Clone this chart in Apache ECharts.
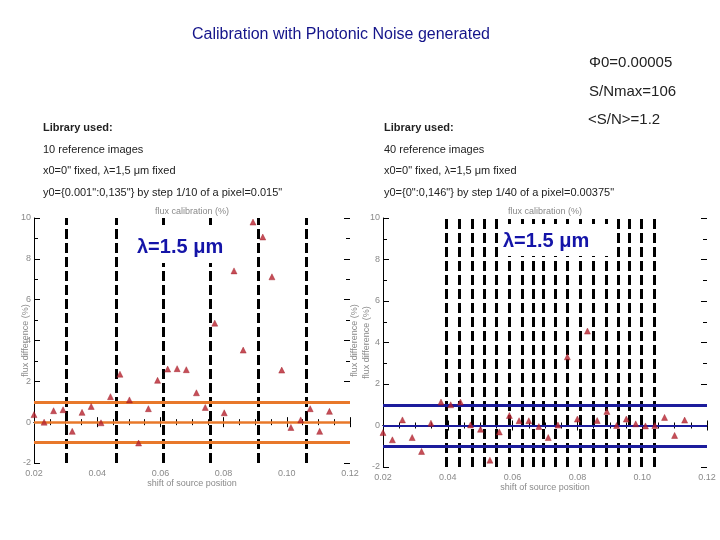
<!DOCTYPE html>
<html>
<head>
<meta charset="utf-8">
<script src="https://cdn.jsdelivr.net/npm/echarts@6/dist/echarts.min.js"></script>
<style>
  html, body { margin: 0; background: #fff; }
  #chart { width: 720px; height: 540px; }
</style>
</head>
<body>
<div id="chart"></div>
<script>
// measured flux difference (%) vs shift of source position, 10-image library
const leftPoints = [
  [0.0200, 0.37], [0.0232, 0.00], [0.0262, 0.56], [0.0292, 0.61], [0.0321, -0.45],
  [0.0352, 0.48], [0.0381, 0.77], [0.0412, -0.03], [0.0442, 1.25], [0.0472, 2.35],
  [0.0502, 1.09], [0.0531, -1.02], [0.0562, 0.66], [0.0591, 2.05], [0.0623, 2.60],
  [0.0653, 2.62], [0.0682, 2.57], [0.0714, 1.44], [0.0742, 0.72], [0.0772, 4.85],
  [0.0802, 0.46], [0.0833, 7.41], [0.0862, 3.53], [0.0893, 9.80], [0.0924, 9.07],
  [0.0953, 7.12], [0.0984, 2.55], [0.1013, -0.26], [0.1044, 0.11], [0.1074, 0.66],
  [0.1104, -0.45], [0.1135, 0.53]
];
// same, 40-image library
const rightPoints = [
  [0.0200, -0.34], [0.0229, -0.69], [0.0260, 0.27], [0.0290, -0.58], [0.0319, -1.25],
  [0.0348, 0.11], [0.0379, 1.13], [0.0409, 1.00], [0.0439, 1.13], [0.0470, 0.03],
  [0.0501, -0.18], [0.0530, -1.67], [0.0559, -0.31], [0.0590, 0.48], [0.0620, 0.23],
  [0.0650, 0.23], [0.0681, -0.05], [0.0710, -0.58], [0.0740, 0.02], [0.0769, 3.31],
  [0.0800, 0.31], [0.0831, 4.55], [0.0861, 0.24], [0.0891, 0.68], [0.0921, 0.00],
  [0.0951, 0.31], [0.0980, 0.08], [0.1010, -0.02], [0.1039, 0.00], [0.1069, 0.39],
  [0.1100, -0.48], [0.1131, 0.26]
];
// reference image positions (dashed lines)
const leftRefs = [0.0303, 0.0459, 0.0609, 0.0759, 0.0910, 0.1060];
const rightRefs = [0.0394, 0.0435, 0.0474, 0.0511, 0.0551, 0.0590, 0.0629, 0.0663, 0.0694,
  0.0731, 0.0768, 0.0808, 0.0848, 0.0889, 0.0926, 0.0960, 0.0997, 0.1037];
// tolerance band (%)
const bandLevels = [1, 0, -1];

const xTicks = { min: 0.02, max: 0.12, interval: 0.02 };
const yTicks = { min: -2, max: 10, interval: 2 };

const chart = echarts.init(document.getElementById('chart'));

const tickColor = '#000';
const faint = '#8a8a8a';

function xAxes(grid) {
  const base = {
    gridIndex: grid, type: 'value', ...xTicks,
    nameMoveOverlap: false,
    axisLine: { lineStyle: { color: tickColor, width: 1 } },
    axisTick: { inside: true, length: 5, lineStyle: { color: tickColor } },
    minorTick: { show: true, splitNumber: 4, length: 3, lineStyle: { color: tickColor } },
    splitLine: { show: false }
  };
  return [
    { ...base, position: 'bottom',
      name: 'shift of source position', nameLocation: 'middle', nameGap: 16,
      nameTextStyle: { color: faint, fontSize: 9 },
      axisLabel: { color: faint, fontSize: 9, margin: 6, formatter: v => v.toFixed(2) } },
    { ...base, position: 'top',
      name: 'flux calibration (%)', nameLocation: 'middle', nameGap: 2,
      nameTextStyle: { color: faint, fontSize: 9 },
      axisLabel: { show: false } }
  ];
}

function yAxes(grid) {
  const base = {
    gridIndex: grid, type: 'value', ...yTicks,
    nameMoveOverlap: false,
    axisLine: { lineStyle: { color: tickColor, width: 1 } },
    axisTick: { inside: true, length: 6, lineStyle: { color: tickColor } },
    minorTick: { show: true, splitNumber: 2, length: 4, lineStyle: { color: tickColor } },
    splitLine: { show: false }
  };
  return [
    { ...base, position: 'left',
      name: 'flux difference (%)', nameLocation: 'middle', nameGap: grid === 0 ? 4 : 12,
      nameTextStyle: { color: faint, fontSize: 9 },
      axisLabel: { color: faint, fontSize: 9, margin: 3 } },
    { ...base, position: 'right',
      name: grid === 0 ? 'flux difference (%)' : '', nameLocation: 'middle', nameGap: 0,
      nameRotate: 90,
      nameTextStyle: { color: faint, fontSize: 9 },
      axisLine: { show: false },
      axisLabel: { show: false } }
  ];
}

function panelSeries(idx, points, refs, bandColor, bandWidths) {
  return [
    {
      type: 'scatter', xAxisIndex: idx * 2, yAxisIndex: idx * 2,
      data: points, symbol: 'triangle', symbolSize: 6,
      itemStyle: { color: '#b8222e', borderColor: '#9a1620', borderWidth: 0.5 },
      z: 5,
      markLine: {
        silent: true, symbol: 'none', precision: 6, label: { show: false },
        lineStyle: { color: '#000', width: 3, type: [10, 4] },
        data: refs.map(v => ({ xAxis: v }))
      }
    },
    {
      type: 'line', xAxisIndex: idx * 2, yAxisIndex: idx * 2,
      data: [], z: 3,
      markLine: {
        silent: true, symbol: 'none', precision: 6, label: { show: false },
        data: bandLevels.map((v, i) => ({ yAxis: v, lineStyle: { color: bandColor, width: bandWidths[i], type: 'solid' } }))
      }
    }
  ];
}

const headerText = (x, y, text, style) => ({
  type: 'text', left: x, top: y,
  style: { text, fill: '#222', font: '15px Arial, "Liberation Sans", sans-serif', ...style }
});

const option = {
  backgroundColor: '#fff',
  animation: false,
  grid: [
    { left: 34, right: 370, top: 218, bottom: 77 },
    { left: 383, right: 13, top: 218, bottom: 73 }
  ],
  xAxis: [...xAxes(0), ...xAxes(1)],
  yAxis: [...yAxes(0), ...yAxes(1)],
  series: [
    ...panelSeries(0, leftPoints, leftRefs, '#e8782a', [3, 2.5, 3]),
    ...panelSeries(1, rightPoints, rightRefs, '#1c1c9c', [3, 2, 3])
  ],
  graphic: [
    headerText(192, 27, 'Calibration with Photonic Noise generated', { fill: '#14148a', font: '16px Arial, "Liberation Sans", sans-serif' }),
    headerText(589, 55, 'Φ0=0.00005'),
    headerText(589, 84, 'S/Nmax=106'),
    headerText(588, 112, '<S/N>=1.2'),
    headerText(43, 122, 'Library used:', { font: 'bold 11px Arial, "Liberation Sans", sans-serif' }),
    headerText(43, 144, '10 reference images', { font: '11px Arial, "Liberation Sans", sans-serif' }),
    headerText(43, 165, 'x0=0" fixed, λ=1,5 μm fixed', { font: '11px Arial, "Liberation Sans", sans-serif' }),
    headerText(43, 187, 'y0={0.001":0,135"} by step 1/10 of a pixel=0.015"', { font: '11px Arial, "Liberation Sans", sans-serif' }),
    headerText(384, 122, 'Library used:', { font: 'bold 11px Arial, "Liberation Sans", sans-serif' }),
    headerText(384, 144, '40 reference images', { font: '11px Arial, "Liberation Sans", sans-serif' }),
    headerText(384, 165, 'x0=0" fixed, λ=1,5 μm fixed', { font: '11px Arial, "Liberation Sans", sans-serif' }),
    headerText(384, 187, 'y0={0":0,146"} by step 1/40 of a pixel=0.00375"', { font: '11px Arial, "Liberation Sans", sans-serif' }),
    {
      type: 'rect', left: 127, top: 226, z: 50,
      shape: { width: 110, height: 37 }, style: { fill: '#fff' }
    },
    headerText(137, 237, 'λ=1.5 μm', { fill: '#1414a8', font: 'bold 20px Arial, "Liberation Sans", sans-serif' }),
    {
      type: 'rect', left: 500, top: 224, z: 50,
      shape: { width: 112, height: 32 }, style: { fill: '#fff' }
    },
    headerText(503, 231, 'λ=1.5 μm', { fill: '#1414a8', font: 'bold 20px Arial, "Liberation Sans", sans-serif' })
  ]
};
option.graphic.forEach(g => { if (g.type === 'text') g.z = 60; });

chart.setOption(option);
</script>
</body>
</html>
